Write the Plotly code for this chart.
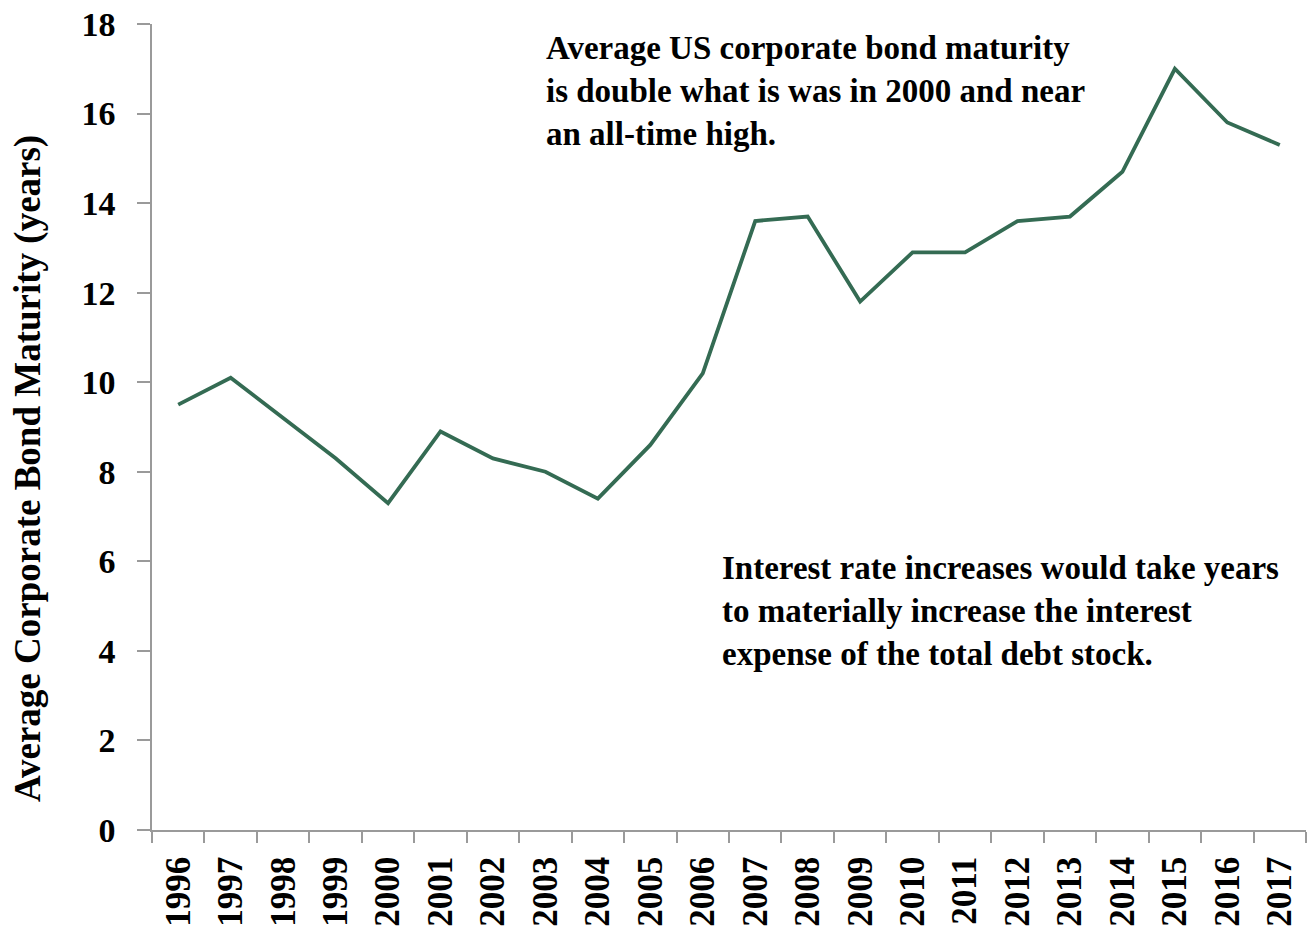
import plotly.graph_objects as go

years = [str(y) for y in range(1996, 2018)]
maturity = [9.5, 10.1, 9.2, 8.3, 7.3, 8.9, 8.3, 8.0, 7.4, 8.6, 10.2,
            13.6, 13.7, 11.8, 12.9, 12.9, 13.6, 13.7, 14.7, 17.0, 15.8, 15.3]
y_ticks = [0, 2, 4, 6, 8, 10, 12, 14, 16, 18]

FONT = "Book Antiqua, Palatino Linotype, Liberation Serif, serif"

fig = go.Figure()
fig.add_trace(go.Scatter(x=years, y=maturity, mode="lines",
                         line=dict(color="#346B53", width=3.8),
                         showlegend=False, hoverinfo="x+y"))

fig.update_layout(
    width=1308, height=928,
    margin=dict(l=152, r=2, t=24, b=98),
    paper_bgcolor="white", plot_bgcolor="white",
    font=dict(family=FONT, color="black"),
    xaxis=dict(type="category", tickson="boundaries", ticks="outside",
               ticklen=11, tickcolor="#9a9a9a", tickwidth=1.5,
               showline=True, linecolor="#9a9a9a", linewidth=1.5,
               showgrid=False, tickangle=-90,
               tickfont=dict(size=35, family=FONT, weight="bold"),
               ticklabelstandoff=11, range=[-0.5, 21.5]),
    yaxis=dict(range=[0, 18], tickvals=y_ticks, ticks="outside",
               ticklen=13, tickcolor="#9a9a9a", tickwidth=1.5,
               showline=True, linecolor="#9a9a9a", linewidth=1.5,
               showgrid=False, zeroline=False,
               tickfont=dict(size=34, family=FONT, weight="bold"),
               ticklabelstandoff=15),
)

fig.add_annotation(text="Average Corporate Bond Maturity (years)",
                   xref="paper", yref="paper", x=(28 - 152) / 1154, y=(830 - 469) / 806,
                   xanchor="center", yanchor="middle", textangle=-90,
                   showarrow=False,
                   font=dict(size=37, family=FONT, weight="bold"))

fig.add_annotation(text="Average US corporate bond maturity<br>is double what is was in 2000 and near<br>an all-time high.",
                   xref="paper", yref="paper", x=(544 - 152) / 1154, y=(830 - 28) / 806,
                   xanchor="left", yanchor="top", align="left", showarrow=False,
                   font=dict(size=33, family=FONT, weight="bold"))

fig.add_annotation(text="Interest rate increases would take years<br>to materially increase the interest<br>expense of the total debt stock.",
                   xref="paper", yref="paper", x=(720 - 152) / 1154, y=(830 - 548) / 806,
                   xanchor="left", yanchor="top", align="left", showarrow=False,
                   font=dict(size=33, family=FONT, weight="bold"))

fig.write_html("out.html")
